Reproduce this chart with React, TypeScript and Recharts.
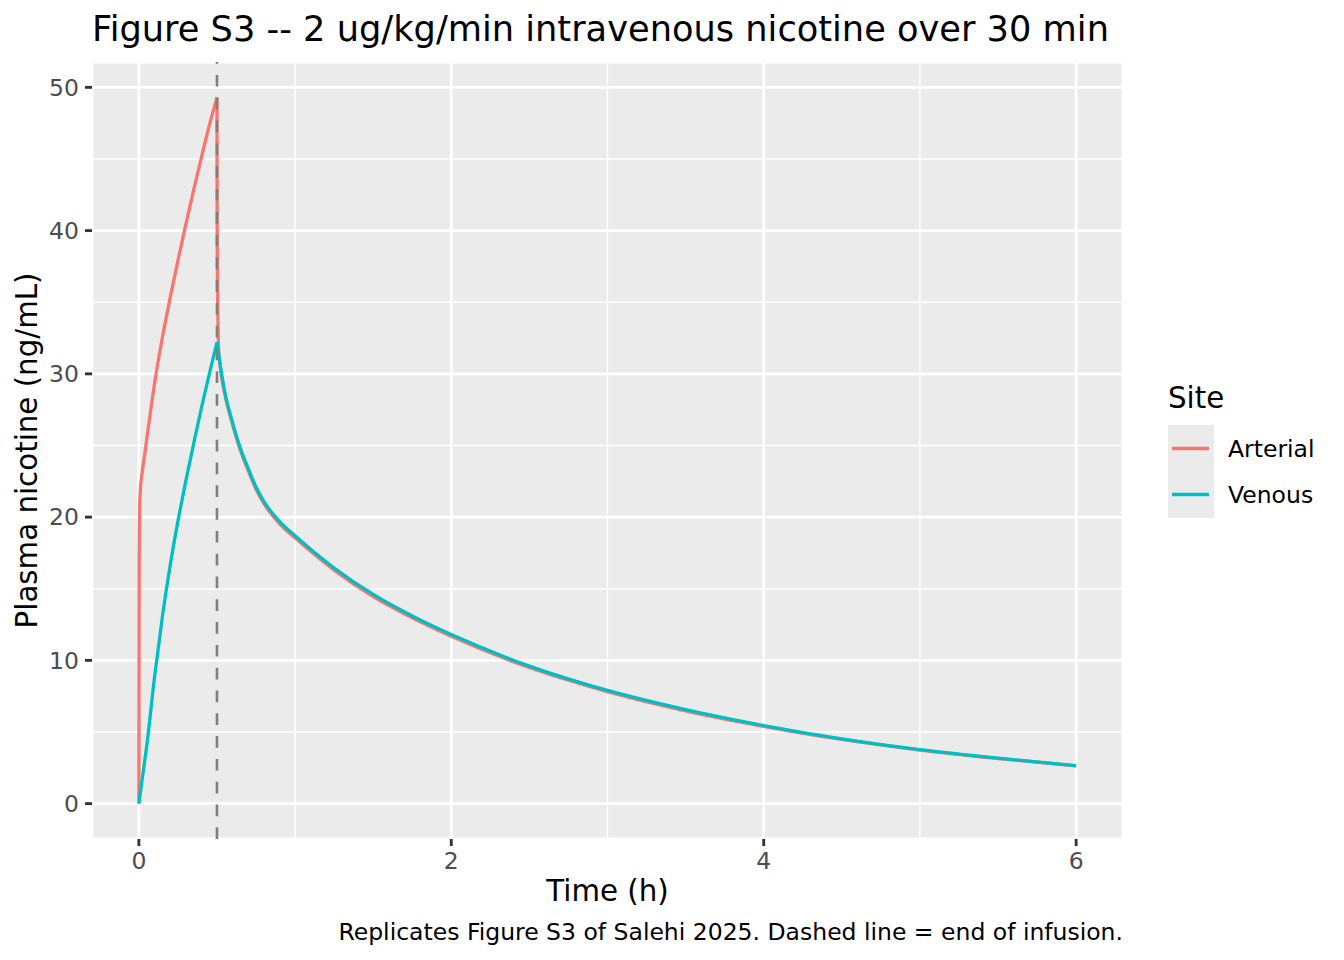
import React from 'react';
import { LineChart, Line, XAxis, YAxis, CartesianGrid, ReferenceLine, Legend, Label } from 'recharts';

const timeH = [0, 0.002, 0.005, 0.01, 0.02, 0.04, 0.05, 0.1, 0.15, 0.2, 0.25, 0.3, 0.35, 0.4, 0.45, 0.5, 0.501, 0.502, 0.504, 0.507, 0.51, 0.52, 0.55, 0.6, 0.65, 0.7, 0.75, 0.8, 0.9, 1.0, 1.25, 1.5, 1.75, 2.0, 2.5, 3.0, 3.5, 4.0, 4.5, 5.0, 5.5, 6.0];
const arterial = [0, 17.0, 20.5, 22.0, 23.0, 24.6, 25.4, 29.3, 32.5, 35.3, 37.9, 40.4, 42.8, 45.1, 47.3, 49.3, 42.0, 38.5, 35.5, 33.3, 31.8, 30.55, 28.6, 26.45, 24.65, 23.25, 21.95, 20.95, 19.55, 18.55, 16.3, 14.45, 12.97, 11.68, 9.5, 7.82, 6.48, 5.4, 4.48, 3.74, 3.15, 2.63];
const venous = [0, 0.15, 0.4, 0.8, 1.6, 3.2, 4.0, 8.8, 13.0, 16.6, 19.7, 22.5, 25.1, 27.6, 29.95, 32.2, 32.13, 32.06, 31.93, 31.73, 31.53, 30.7, 28.75, 26.6, 24.8, 23.4, 22.1, 21.1, 19.7, 18.7, 16.45, 14.6, 13.1, 11.8, 9.6, 7.9, 6.56, 5.45, 4.52, 3.77, 3.17, 2.65];

const xTicks = [0, 2, 4, 6];
const xMinor = [1, 3, 5];
const yTicks = [0, 10, 20, 30, 40, 50];
const yMinor = [5, 15, 25, 35, 45];
const endOfInfusion = 0.5;

const seriesNames = ['Arterial', 'Venous'];
const seriesColors = ['#F8766D', '#00BFC4'];

// split each series at the end of infusion so the peak stays sharp
const data = timeH.map((t, i) => ({
  t,
  arterialRise: t <= endOfInfusion ? arterial[i] : null,
  arterialFall: t >= endOfInfusion ? arterial[i] : null,
  venousRise: t <= endOfInfusion ? venous[i] : null,
  venousFall: t >= endOfInfusion ? venous[i] : null,
}));

const FONT = 'DejaVu Sans';
const LINE_W = 3.3;

const LegendBox = () => (
  <svg width={180} height={150} style={{ display: 'block' }}>
    <text x={8} y={28} fontSize={29.3} fontFamily={FONT} fill="#000">Site</text>
    <rect x={8} y={45} width={46} height={93} fill="#EBEBEB" />
    {seriesNames.map((name, i) => (
      <g key={name}>
        <line x1={12} x2={49} y1={68.5 + i * 46} y2={68.5 + i * 46} stroke={seriesColors[i]} strokeWidth={LINE_W} />
        <text x={68} y={76.7 + i * 46} fontSize={23.5} fontFamily={FONT} fill="#000">{name}</text>
      </g>
    ))}
  </svg>
);

export default function App() {
  const tickStyle = { fill: '#4D4D4D', fontSize: 23.5, fontFamily: FONT };
  const tickLine = { stroke: '#333333', strokeWidth: 2.85 };
  const lineProps = { type: 'monotone' as const, strokeWidth: LINE_W, strokeLinejoin: 'round' as const, dot: false, activeDot: false, isAnimationActive: false, connectNulls: false };
  return (
    <div style={{ position: 'absolute', left: 0, top: 0, width: 1344, height: 960, background: '#fff', fontFamily: FONT }}>
      <LineChart width={1344} height={960} data={data} margin={{ top: 62, right: 221, bottom: 81, left: 0 }}>
        <CartesianGrid stroke="#FFFFFF" strokeWidth={2.85} fill="#EBEBEB" fillOpacity={1} />
        <XAxis
          dataKey="t"
          type="number"
          domain={[-0.3, 6.3]}
          ticks={xTicks}
          allowDataOverflow
          height={40}
          tick={tickStyle}
          tickLine={tickLine}
          axisLine={false}
          tickSize={7}
          tickMargin={6}
        >
          <Label
            content={(p: any) => {
              const vb = p.viewBox || { x: 92, y: 839, width: 1031 };
              return (
                <text x={vb.x + vb.width / 2} y={vb.y + 62} textAnchor="middle" fontSize={29.3} fontFamily={FONT} fill="#000">
                  Time (h)
                </text>
              );
            }}
          />
        </XAxis>
        <YAxis
          type="number"
          domain={[-2.47, 51.77]}
          ticks={yTicks}
          allowDataOverflow
          width={92}
          tick={tickStyle}
          tickLine={tickLine}
          axisLine={false}
          tickSize={7}
          tickMargin={6}
        >
          <Label
            content={(p: any) => {
              const vb = p.viewBox || { x: 0, y: 62, width: 92, height: 777 };
              const cy = vb.y + vb.height / 2;
              return (
                <text transform={`translate(37, ${cy}) rotate(-90)`} x={0} y={0} textAnchor="middle" fontSize={29.3} fontFamily={FONT} fill="#000">
                  Plasma nicotine (ng/mL)
                </text>
              );
            }}
          />
        </YAxis>
        {xMinor.map((v) => (
          <ReferenceLine key={'xm' + v} x={v} stroke="#FFFFFF" strokeWidth={1.42} />
        ))}
        {yMinor.map((v) => (
          <ReferenceLine key={'ym' + v} y={v} stroke="#FFFFFF" strokeWidth={1.42} />
        ))}
        <Line {...lineProps} dataKey="arterialRise" name={seriesNames[0]} stroke={seriesColors[0]} />
        <Line {...lineProps} dataKey="arterialFall" name={seriesNames[0] + ' '} stroke={seriesColors[0]} />
        <Line {...lineProps} dataKey="venousRise" name={seriesNames[1]} stroke={seriesColors[1]} />
        <Line {...lineProps} dataKey="venousFall" name={seriesNames[1] + ' '} stroke={seriesColors[1]} />
        <ReferenceLine
          segment={[{ x: endOfInfusion, y: -2.47 }, { x: endOfInfusion, y: 51.77 }]}
          stroke="#7F7F7F"
          strokeWidth={2.6}
          strokeDasharray="11.7 11.1"
        />
        <Legend
          layout="vertical"
          align="center"
          verticalAlign="middle"
          content={() => <LegendBox />}
          wrapperStyle={{ left: 1160, top: 380, width: 180, height: 150 }}
        />
      </LineChart>
      <svg width={1344} height={960} style={{ position: 'absolute', left: 0, top: 0, pointerEvents: 'none' }}>
        <text x={92} y={41} fontSize={35.2} fontFamily={FONT} fill="#000">
          Figure S3 -- 2 ug/kg/min intravenous nicotine over 30 min
        </text>
        <text x={1123} y={940} textAnchor="end" fontSize={23.5} fontFamily={FONT} fill="#000">
          Replicates Figure S3 of Salehi 2025. Dashed line = end of infusion.
        </text>
      </svg>
    </div>
  );
}
